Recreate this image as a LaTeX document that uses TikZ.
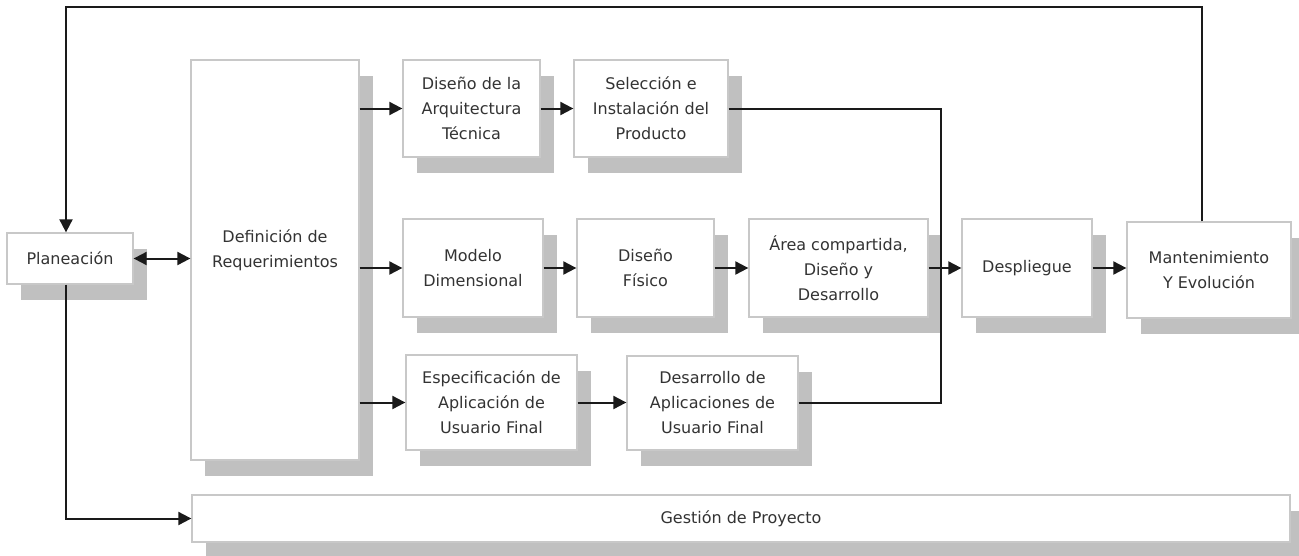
\documentclass[tikz,border=0pt]{standalone}
\usepackage{fontspec}
\setmainfont{DejaVu Sans}
\usetikzlibrary{arrows.meta,shadows}
\definecolor{bordc}{HTML}{C8C8C8}
\definecolor{shadc}{HTML}{C0C0C0}
\definecolor{txtc}{HTML}{333333}
\definecolor{linec}{HTML}{1A1A1A}
\begin{document}
\begin{tikzpicture}[x=1pt,y=-1pt,
  txtfont/.style={font=\fontsize{16pt}{25pt}\selectfont},
  blk/.style={draw=bordc, fill=white, line width=1.3pt, inner sep=0pt, align=center,
    text=txtc, txtfont,
    drop shadow={shadow xshift=14pt, shadow yshift=-16pt, fill=shadc, opacity=1}},
  lbl/.style={inner sep=0pt, align=center, text=txtc, txtfont},
  conn/.style={draw=linec, line width=2pt},
  arr/.style={conn, -{Triangle[length=13pt,width=13pt]}},
  darr/.style={conn, {Triangle[length=13pt,width=13pt]}-{Triangle[length=13pt,width=13pt]}},
]
\useasboundingbox (0,0) rectangle (1299,555);
\fill[white] (0,0) rectangle (1299,555);

% boxes
\node[blk, minimum width=126pt, minimum height=51pt] (plan) at (70,258.5) {Planeación};
\node[blk, minimum width=168pt, minimum height=400pt] (def) at (275,260) {};
\node[lbl] (deftxt) at (275,250) {Definición de\\Requerimientos};
\node[blk, minimum width=137pt, minimum height=97pt] (arq) at (471.5,108.5) {Diseño de la\\Arquitectura\\Técnica};
\node[blk, minimum width=154pt, minimum height=97pt] (sel) at (651,108.5) {Selección e\\Instalación del\\Producto};
\node[blk, minimum width=140pt, minimum height=98pt] (mod) at (473,268) {Modelo\\Dimensional};
\node[blk, minimum width=137pt, minimum height=98pt] (fis) at (645.5,268) {Diseño\\Físico};
\node[blk, minimum width=179pt, minimum height=98pt] (area) at (838.5,268) {Área compartida,\\Diseño y\\Desarrollo};
\node[blk, minimum width=130pt, minimum height=98pt] (desp) at (1027,268) {Despliegue};
\node[blk, minimum width=164pt, minimum height=96pt] (mant) at (1209,270) {Mantenimiento\\Y Evolución};
\node[blk, minimum width=171pt, minimum height=95pt] (esp) at (491.5,402.5) {Especificación de\\Aplicación de\\Usuario Final};
\node[blk, minimum width=171pt, minimum height=94pt] (dev) at (712.5,403) {Desarrollo de\\Aplicaciones de\\Usuario Final};
\node[blk, minimum width=1098pt, minimum height=47pt] (gest) at (741,518.5) {Gestión de Proyecto};

% helper coordinates
\coordinate (j) at (941,268);
\coordinate (t1) at (1202,7);
\coordinate (t2) at (66,7);
\coordinate (b1) at (66,518.5);

% connectors
\draw[darr] (plan.east) -- (plan.east -| def.west);
\draw[arr] (def.east |- arq.west) -- (arq.west);
\draw[arr] (def.east |- mod.west) -- (mod.west);
\draw[arr] (def.east |- esp.west) -- (esp.west);
\draw[arr] (arq.east) -- (sel.west);
\draw[arr] (mod.east) -- (fis.west);
\draw[arr] (fis.east) -- (area.west);
\draw[arr] (esp.east) -- (esp.east -| dev.west);
\draw[conn] (sel.east) -| (j);
\draw[conn] (dev.east) -| (j);
\draw[arr] (area.east) -- (desp.west);
\draw[arr] (desp.east) -- (desp.east -| mant.west);
\draw[arr] (mant.north -| t1) -- (t1) -- (t2) -- (t2 |- plan.north);
\draw[arr] (plan.south -| b1) -- (b1) -- (gest.west);
\end{tikzpicture}
\end{document}
